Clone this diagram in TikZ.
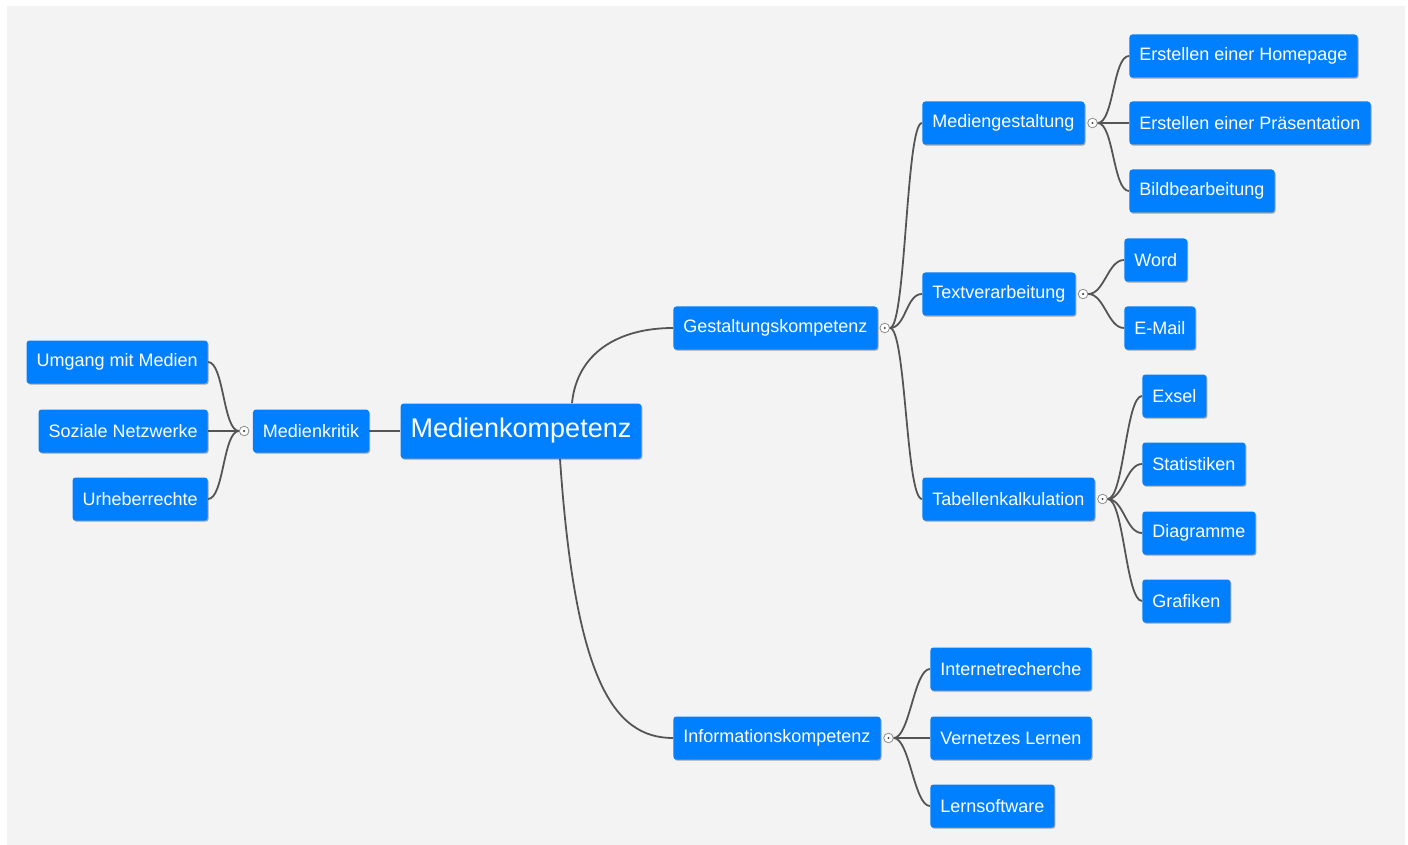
\documentclass[tikz,border=0pt]{standalone}
\usepackage{fontspec}
\setmainfont{Liberation Sans}
\usetikzlibrary{positioning,shadows}
\definecolor{topicblue}{RGB}{0,128,255}
\definecolor{linegray}{RGB}{85,85,85}
\definecolor{bggray}{RGB}{243,243,243}

\begin{document}
\begin{tikzpicture}[x=0.5pt, y=-0.5pt, font=\fontsize{9}{11}\selectfont,
  topic/.style={fill=topicblue, text=white, rounded corners=1.5pt, inner xsep=5pt,
    minimum height=21.5pt, drop shadow={shadow xshift=0.5pt, shadow yshift=-0.6pt, fill=black!50, opacity=0.7}},
  root/.style={topic, font=\fontsize{13.5}{16}\selectfont, minimum width=119pt, minimum height=27.5pt},
  fold/.style={circle, draw=black!45, fill=white, inner sep=0pt, minimum size=4.8pt,
    path picture={\fill[black!70] (path picture bounding box.center) circle (0.6pt);}},
  link/.style={draw=linegray, line width=0.9pt}]
\useasboundingbox (0,0) rectangle (1408,845);
\fill[bggray] (7,6) rectangle (1405,845);
% Wurzel und linker Zweig
\node[root] (root) at (521,431) {Medienkompetenz};
\node[topic] (kritik) at (311,431) {Medienkritik};
\node[fold, left=1.6pt of kritik] (kritik-f) {};
\node[topic, anchor=east] (umgang) at (208,362) {Umgang mit Medien};
\node[topic, anchor=east] (sozial) at (208,431) {Soziale Netzwerke};
\node[topic, anchor=east] (urheber) at (208,499) {Urheberrechte};
% rechte Zweige
\node[topic, anchor=west] (gest) at (673,328) {Gestaltungskompetenz};
\node[fold, right=0.8pt of gest] (gest-f) {};
\node[topic, anchor=west] (info) at (673,738) {Informationskompetenz};
\node[fold, right=1.2pt of info] (info-f) {};
\node[topic, anchor=west] (medg) at (922,123) {Mediengestaltung};
\node[fold, right=1.2pt of medg] (medg-f) {};
\node[topic, anchor=west] (text) at (922,294) {Textverarbeitung};
\node[fold, right=1pt of text] (text-f) {};
\node[topic, anchor=west] (tab) at (922,499) {Tabellenkalkulation};
\node[fold, right=1.2pt of tab] (tab-f) {};
\node[topic, anchor=west] (home) at (1129,56) {Erstellen einer Homepage};
\node[topic, anchor=west] (praes) at (1129,123) {Erstellen einer Präsentation};
\node[topic, anchor=west] (bild) at (1129,191) {Bildbearbeitung};
\node[topic, anchor=west] (word) at (1124,260) {Word};
\node[topic, anchor=west] (mail) at (1124,328) {E-Mail};
\node[topic, anchor=west] (exsel) at (1142,396) {Exsel};
\node[topic, anchor=west] (stat) at (1142,464) {Statistiken};
\node[topic, anchor=west] (diag) at (1142,533) {Diagramme};
\node[topic, anchor=west] (graf) at (1142,601) {Grafiken};
\node[topic, anchor=west] (recherche) at (930,669) {Internetrecherche};
\node[topic, anchor=west] (vernetz) at (930,738) {Vernetzes Lernen};
\node[topic, anchor=west] (lernsw) at (930,806) {Lernsoftware};
% Verbindungen
\draw[link] (root.west) -- (kritik.east);
\draw[link] (kritik-f.west) -- (sozial.east);
\draw[link] (kritik-f.west) .. controls +(-16,0) and +(16,0) .. (umgang.east);
\draw[link] (kritik-f.west) .. controls +(-16,0) and +(16,0) .. (urheber.east);
\draw[link] ([xshift=25.5pt]root.north) .. controls +(5,-50) and +(-55,0) .. (gest.west);
\draw[link] ([xshift=19.5pt]root.south) .. controls +(15,220) and +(-60,0) .. (info.west);
\draw[link] (gest-f.east) .. controls +(16,0) and +(-16,0) .. (medg.west);
\draw[link] (gest-f.east) .. controls +(16,0) and +(-16,0) .. (text.west);
\draw[link] (gest-f.east) .. controls +(16,0) and +(-16,0) .. (tab.west);
\draw[link] (medg-f.east) .. controls +(16,0) and +(-16,0) .. (home.west);
\draw[link] (medg-f.east) -- (praes.west);
\draw[link] (medg-f.east) .. controls +(16,0) and +(-16,0) .. (bild.west);
\draw[link] (text-f.east) .. controls +(16,0) and +(-16,0) .. (word.west);
\draw[link] (text-f.east) .. controls +(16,0) and +(-16,0) .. (mail.west);
\draw[link] (tab-f.east) .. controls +(16,0) and +(-16,0) .. (exsel.west);
\draw[link] (tab-f.east) .. controls +(16,0) and +(-16,0) .. (stat.west);
\draw[link] (tab-f.east) .. controls +(16,0) and +(-16,0) .. (diag.west);
\draw[link] (tab-f.east) .. controls +(16,0) and +(-16,0) .. (graf.west);
\draw[link] (info-f.east) .. controls +(16,0) and +(-16,0) .. (recherche.west);
\draw[link] (info-f.east) -- (vernetz.west);
\draw[link] (info-f.east) .. controls +(16,0) and +(-16,0) .. (lernsw.west);
\end{tikzpicture}
\end{document}
